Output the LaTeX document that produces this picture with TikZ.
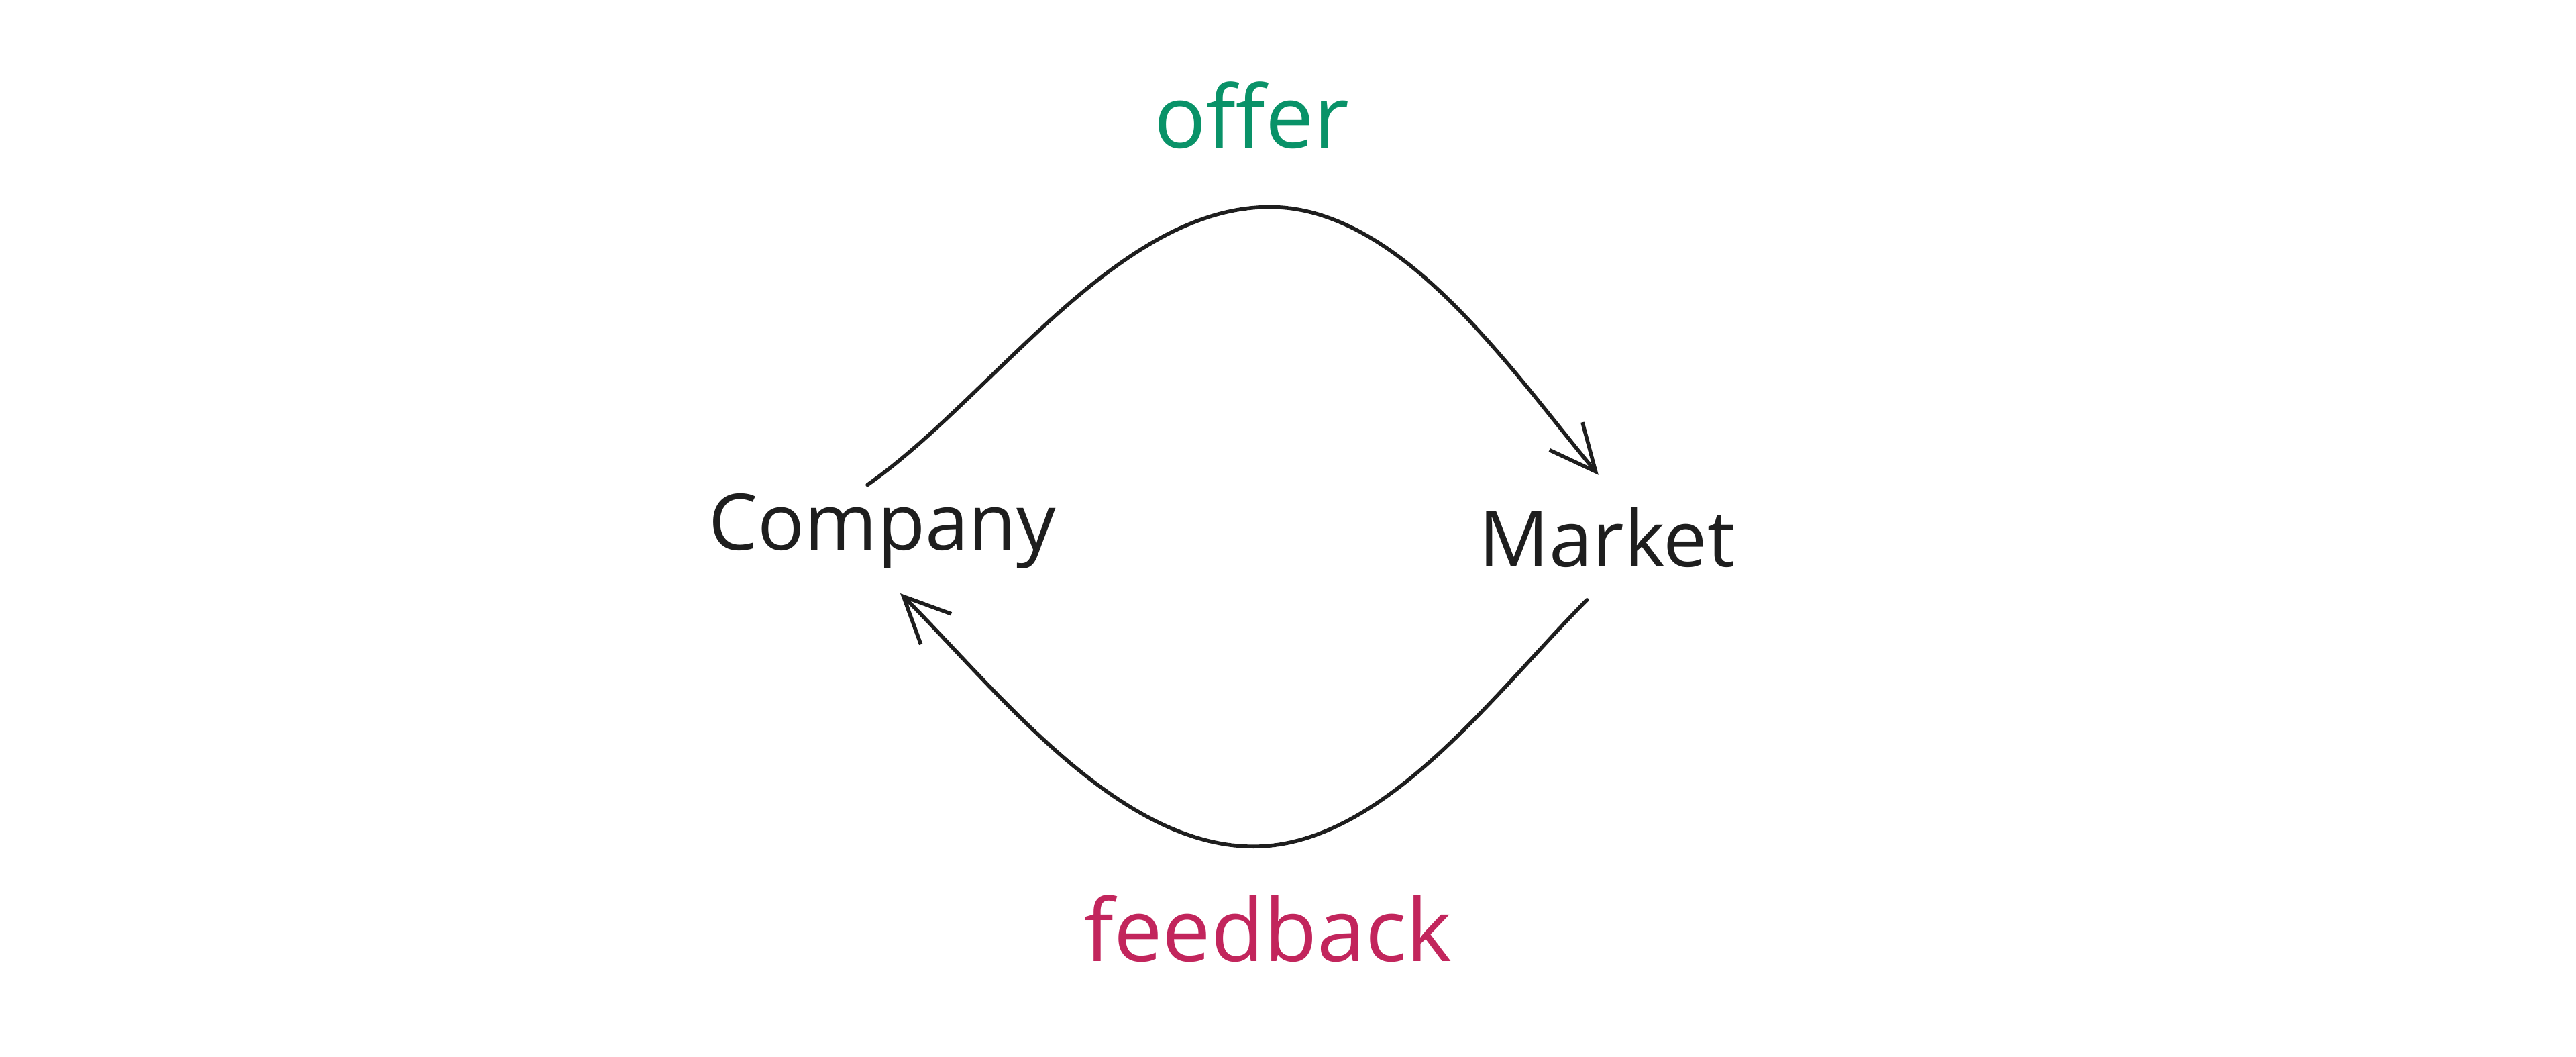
\documentclass[tikz,border=0pt]{standalone}
\usepackage{fontspec}
\setmainfont{Open Sans}
\usetikzlibrary{arrows.meta}
\definecolor{ink}{HTML}{1E1E1E}
\definecolor{offerc}{HTML}{099268}
\definecolor{feedc}{HTML}{C2255C}
\begin{document}
\begin{tikzpicture}[x=0.01cm,y=-0.01cm,
  lbl/.style={font=\fontsize{13.5}{16}\selectfont, text=ink, inner sep=0},
  edge/.style={draw=ink, line width=0.65pt, line cap=round, -{Straight Barb[length=8pt,width=10pt,angle'=50]}}]
\useasboundingbox (0,0) rectangle (1568,643);
\node[lbl] (company) at (537,323) {Company};
\node[lbl] (market) at (978,327) {Market};
\node[lbl, text=offerc, font=\fontsize{15}{18}\selectfont] (offer) at (762,70) {offer};
\node[lbl, text=feedc, font=\fontsize{15}{18}\selectfont] (feedback) at (772,565) {feedback};
\coordinate (a1) at (528,295);
\coordinate (top) at (773,126);
\coordinate (a2) at (973,289);
\coordinate (b1) at (966,365);
\coordinate (bot) at (763,515);
\coordinate (b2) at (548,361);
\draw[edge] (a1) to[out=35,in=180,looseness=0.8] (top) to[out=0,in=130,looseness=0.8] (a2);
\draw[edge] (b1) to[out=-135,in=0,looseness=0.8] (bot) to[out=180,in=-45,looseness=0.8] (b2);
\end{tikzpicture}
\end{document}
